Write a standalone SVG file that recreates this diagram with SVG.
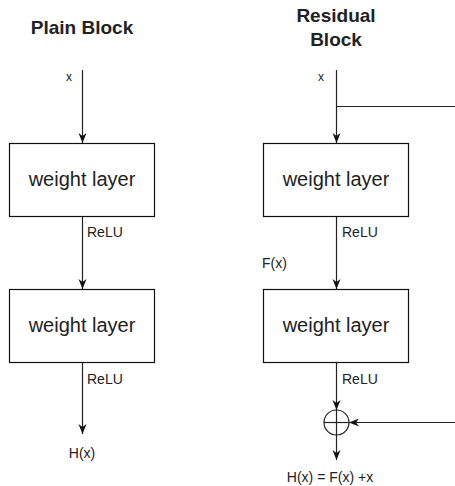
<svg xmlns="http://www.w3.org/2000/svg" width="455" height="486" viewBox="0 0 455 486">
  <style>
    text { font-family: "Liberation Sans", Arial, sans-serif; fill: #222; }
    .title { font-size: 19px; font-weight: bold; text-anchor: middle; }
    .box { fill: #fff; stroke: #111; stroke-width: 1.2; }
    .box-label { font-size: 20px; text-anchor: middle; }
    .lbl { font-size: 14px; }
    .small { font-size: 12px; }
    .wire { fill: none; stroke: #222; stroke-width: 1.2; }
  </style>
  <defs>
    <marker id="arrow" viewBox="0 0 10 10" refX="10" refY="5" markerWidth="10" markerHeight="10" markerUnits="userSpaceOnUse" orient="auto">
      <path d="M0,1 L10,5 L0,9 L3,5 Z" fill="#111"/>
    </marker>
  </defs>

  <!-- titles -->
  <text class="title" x="82" y="34">Plain Block</text>
  <text class="title" x="336" y="22">Residual</text>
  <text class="title" x="336" y="46">Block</text>

  <!-- connectors -->
  <g id="connectors">
    <!-- plain block -->
    <line class="wire" x1="82.5" y1="70" x2="82.5" y2="143" marker-end="url(#arrow)"/>
    <line class="wire" x1="82.5" y1="217" x2="82.5" y2="289" marker-end="url(#arrow)"/>
    <line class="wire" x1="82.5" y1="362" x2="82.5" y2="434" marker-end="url(#arrow)"/>
    <!-- residual block -->
    <line class="wire" x1="336.5" y1="70" x2="336.5" y2="143" marker-end="url(#arrow)"/>
    <line class="wire" x1="336.5" y1="106.5" x2="456" y2="106.5"/>
    <line class="wire" x1="336.5" y1="217" x2="336.5" y2="289" marker-end="url(#arrow)"/>
    <line class="wire" x1="336.5" y1="362" x2="336.5" y2="410" marker-end="url(#arrow)"/>
    <line class="wire" x1="456" y1="422.5" x2="349" y2="422.5" marker-end="url(#arrow)"/>
    <line class="wire" x1="336.5" y1="435" x2="336.5" y2="460" marker-end="url(#arrow)"/>
  </g>

  <!-- plain block nodes -->
  <g id="plain-layer1">
    <rect class="box" x="9.5" y="143.5" width="145" height="73"/>
    <text class="box-label" x="82" y="186">weight layer</text>
  </g>
  <g id="plain-layer2">
    <rect class="box" x="9.5" y="289.5" width="145" height="73"/>
    <text class="box-label" x="82" y="332">weight layer</text>
  </g>

  <!-- residual block nodes -->
  <g id="res-layer1">
    <rect class="box" x="263.5" y="143.5" width="145" height="73"/>
    <text class="box-label" x="336" y="186">weight layer</text>
  </g>
  <g id="res-layer2">
    <rect class="box" x="263.5" y="289.5" width="145" height="73"/>
    <text class="box-label" x="336" y="332">weight layer</text>
  </g>
  <g id="res-sum">
    <circle cx="336.5" cy="422.5" r="12.5" fill="#fff" stroke="#222" stroke-width="1.2"/>
    <line class="wire" x1="324" y1="422.5" x2="349" y2="422.5"/>
    <line class="wire" x1="336.5" y1="410" x2="336.5" y2="435"/>
  </g>

  <!-- edge labels -->
  <text class="small" x="66" y="81">x</text>
  <text class="small" x="318" y="81">x</text>
  <text class="lbl" x="87" y="237">ReLU</text>
  <text class="lbl" x="87" y="384">ReLU</text>
  <text class="lbl" x="342" y="237">ReLU</text>
  <text class="lbl" x="342" y="384">ReLU</text>
  <text class="lbl" x="262" y="268">F(x)</text>
  <text class="lbl" x="82" y="458" text-anchor="middle">H(x)</text>
  <text class="lbl" x="330" y="482" text-anchor="middle">H(x) = F(x) +x</text>
</svg>
